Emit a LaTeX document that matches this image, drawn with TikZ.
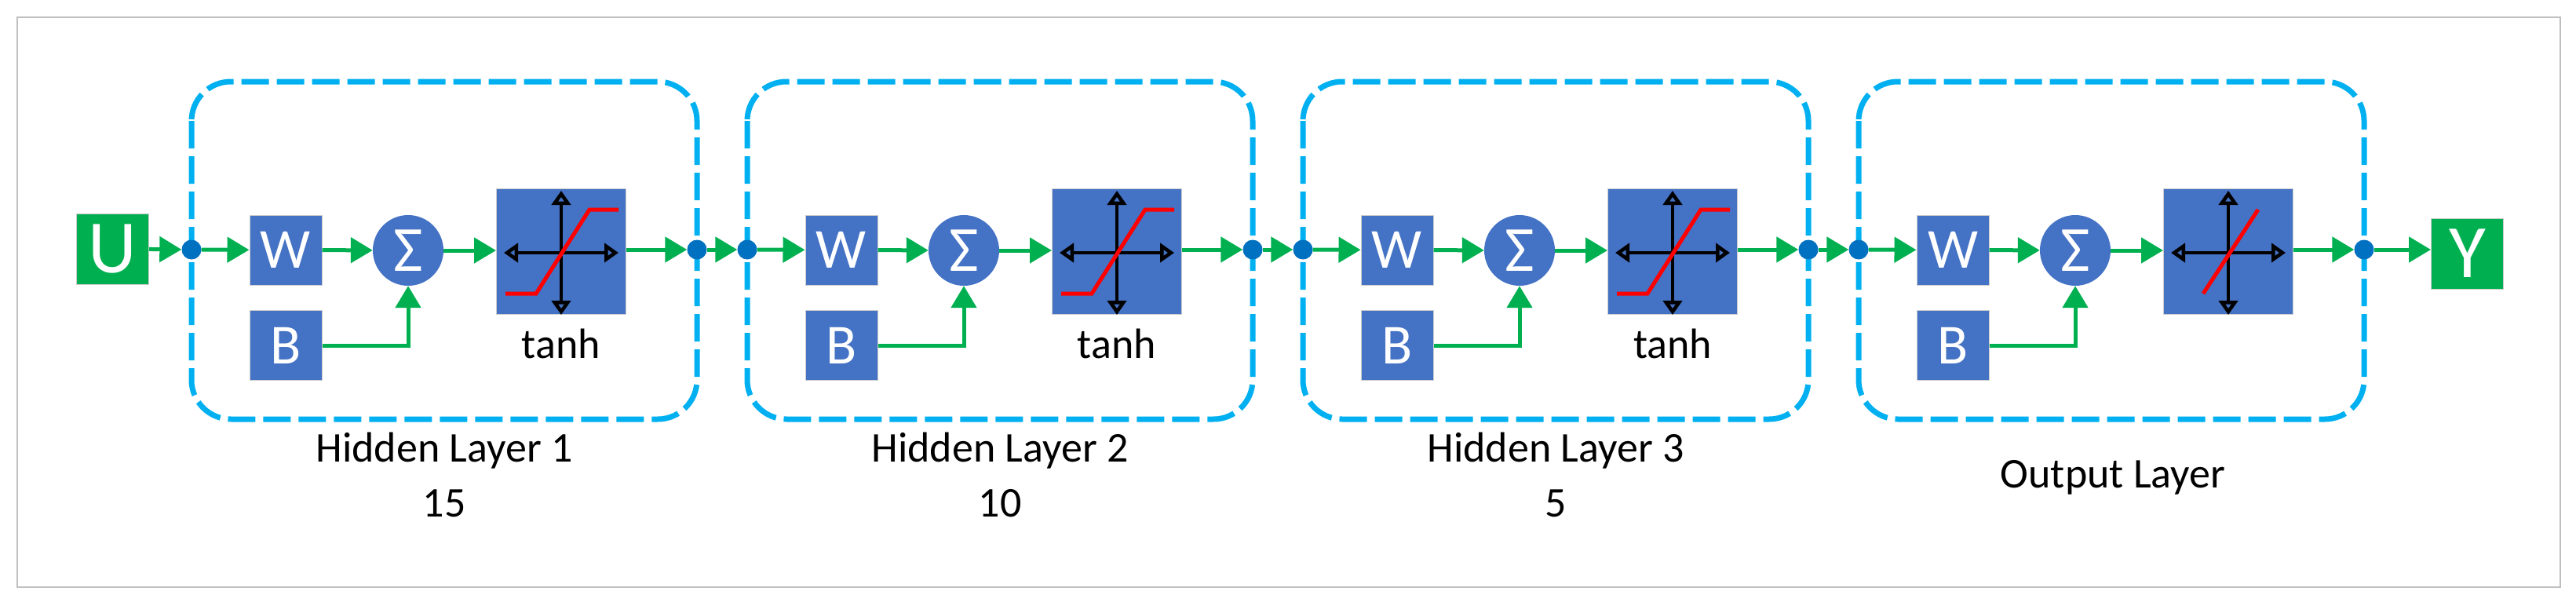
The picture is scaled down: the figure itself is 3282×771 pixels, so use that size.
\documentclass[tikz,border=0pt]{standalone}
\usepackage{fontspec}
\setmainfont{Carlito}
\usetikzlibrary{arrows.meta,shapes.geometric}
\definecolor{bbox}{HTML}{4472C4}
\definecolor{grn}{HTML}{00B050}
\definecolor{dashc}{HTML}{00B0F0}
\definecolor{dotc}{HTML}{0070C0}
\begin{document}
\begin{tikzpicture}[x=1pt,y=-1pt,
  blk/.style={draw=black!20,line width=1pt,fill=bbox,text=white,inner sep=0pt,minimum width=92pt,minimum height=89pt,font=\fontsize{72}{72}\selectfont},
  io/.style={draw=black!20,line width=1pt,fill=grn,text=white,inner sep=0pt,minimum width=92pt,minimum height=90pt,font=\fontsize{96}{96}\selectfont},
  sum/.style={circle,fill=bbox,text=white,inner sep=0pt,minimum size=90pt,font=\fontsize{82}{82}\selectfont},
  act/.style={draw=black!20,line width=1pt,fill=bbox,inner sep=0pt,minimum width=165pt,minimum height=160pt},
  jn/.style={circle,fill=dotc,inner sep=0pt,minimum size=25pt},
  con/.style={grn,line width=5pt,-{Triangle[length=28pt,width=32pt]}},
  layerbox/.style={dashc,line width=7pt,dash pattern=on 35pt off 10pt,rounded corners=50pt},
  lbl/.style={font=\fontsize{54}{58}\selectfont},
  ax/.style={black,line width=4.5pt,{Triangle[open,length=18pt,width=24pt]}-{Triangle[open,length=18pt,width=24pt]}}
]
\useasboundingbox (0,0) rectangle (3282,771);
\draw[black!25,line width=1.5pt] (22,22) rectangle (3262,748);

\node[io] (U) at (143.5,317) {U};
\node[io] (Y) at (3143.5,323) {Y};

\foreach \i in {1,...,4}{
  \pgfmathsetmacro{\L}{244+708*(\i-1)}
  \draw[layerbox] (\L,104) rectangle (\L+644,534);
  \node[blk] (W\i) at (\L+120,318.5) {W};
  \node[blk] (B\i) at (\L+120,440) {B};
  \node[sum] (S\i) at (\L+276,319) {Σ};
  \node[act] (T\i) at (\L+471,320) {};
  \draw[ax] (\L+471,243) -- (\L+471,401);
  \draw[ax] (\L+398,322) -- (\L+544,322);
  \node[jn] (din\i) at (\L,318) {};
  \node[jn] (dout\i) at (\L+644,318) {};
  \draw[con] (din\i) -- (W\i);
  \draw[con] (W\i) -- (S\i);
  \draw[con] (S\i) -- (T\i.west|-S\i);
  \draw[con] (T\i.east|-dout\i) -- (dout\i);
  \draw[con] (B\i.east) -| (S\i.south);
}
\foreach \i in {1,2,3}{
  \pgfmathsetmacro{\L}{244+708*(\i-1)}
  \draw[red,line width=5pt] (\L+400,374) -- (\L+439,374) -- (\L+507,267) -- (\L+544,267);
  \node[lbl] (tl\i) at (\L+471,438) {tanh};
}
\draw[red,line width=5pt] (2370+437,374) -- (2370+507,267);
\node[lbl] (L1) at (566,574) {Hidden Layer 1};
\node[lbl] (N1) at (566,641) {15};
\node[lbl] (L2) at (1274,574) {Hidden Layer 2};
\node[lbl] (N2) at (1274,641) {10};
\node[lbl] (L3) at (1982,574) {Hidden Layer 3};
\node[lbl] (N3) at (1982,641) {5};
\node[lbl] (L4) at (2692,608) {Output Layer};

\draw[con] (U) -- (din1);
\draw[con] (dout1) -- (din2);
\draw[con] (dout2) -- (din3);
\draw[con] (dout3) -- (din4);
\draw[con] (dout4) -- (Y.west|-dout4);
\end{tikzpicture}
\end{document}
